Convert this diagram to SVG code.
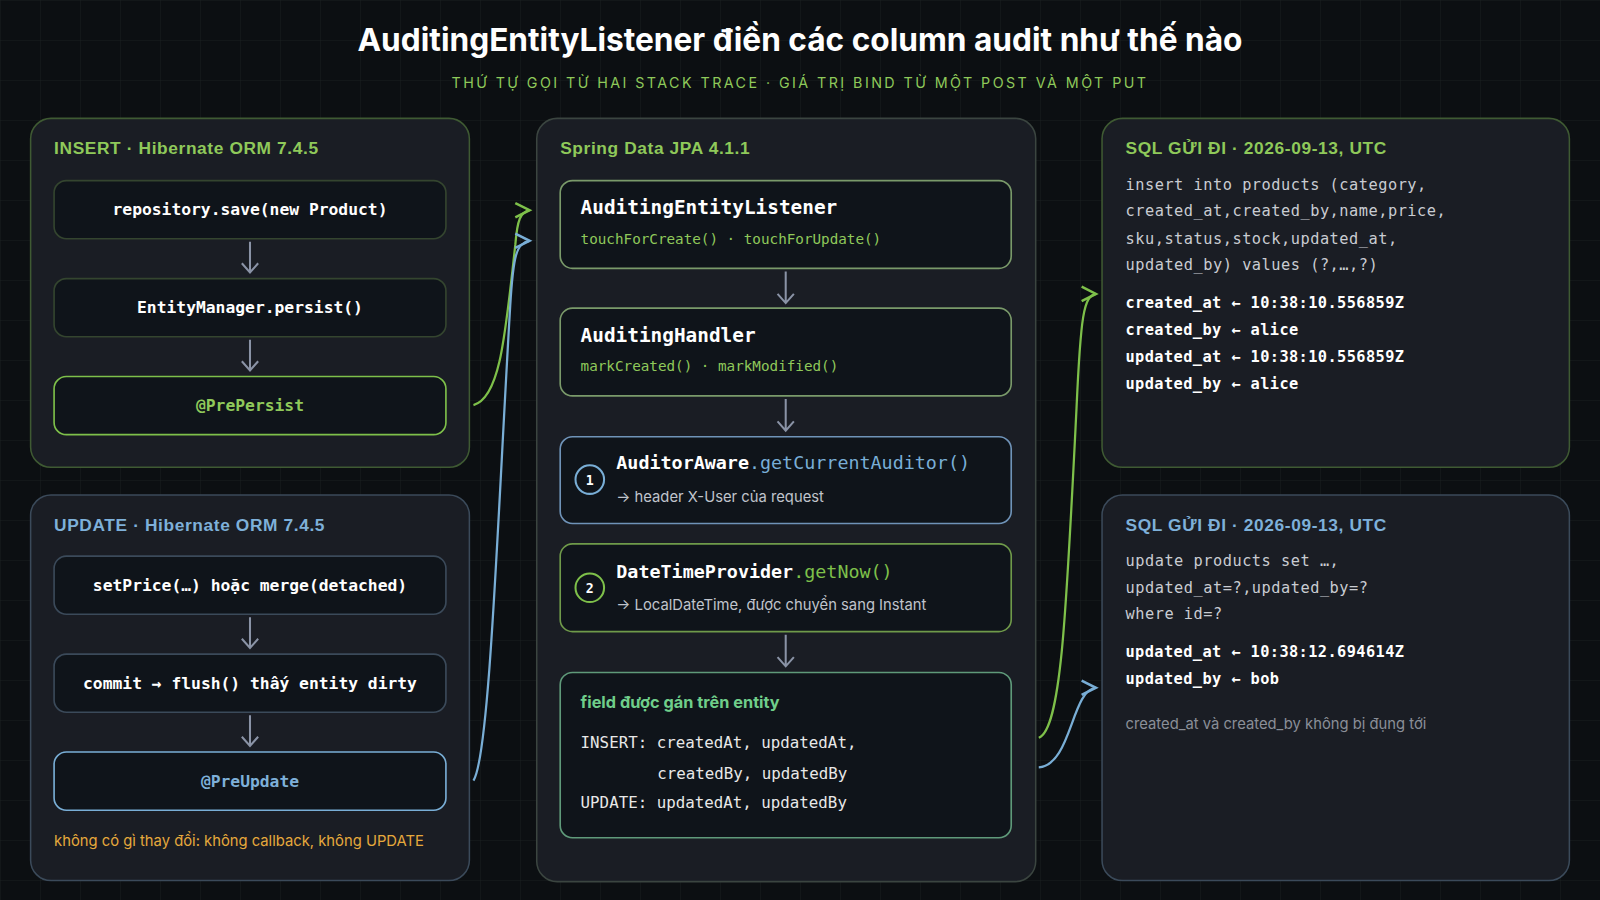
<svg xmlns="http://www.w3.org/2000/svg" width="1600" height="900" viewBox="0 0 1600 900">
<defs>
<style>
.sans{font-family:Inter,"Liberation Sans","Noto Sans",sans-serif}
.hdr{font-family:"Liberation Sans",Inter,sans-serif;font-size:17px;font-weight:bold;letter-spacing:0.6px}
.mono{font-family:"DejaVu Sans Mono","Liberation Mono",monospace}
.panel{fill:#1a1d24}
.box{fill:#0f141a;stroke-width:1.6}
.arr{stroke:#8a93a6;stroke-width:2;fill:none}
.g{fill:#8fc95a}.b{fill:#7eb0d9}
.code{fill:#ffffff;font-weight:bold;font-size:16px}
.big{font-size:19px}
.sql{fill:#c9ccd2;font-size:15px;letter-spacing:0.5px}
.bind{fill:#ffffff;font-weight:bold;font-size:15px;letter-spacing:0.4px}
</style>
<marker id="mg" viewBox="0 0 20 20" refX="16" refY="10" markerWidth="20" markerHeight="20" markerUnits="userSpaceOnUse" orient="0"><path d="M2,3 L16,10 L2,17" fill="none" stroke="#7ec04a" stroke-width="2.5"/></marker>
<marker id="mb" viewBox="0 0 20 20" refX="16" refY="10" markerWidth="20" markerHeight="20" markerUnits="userSpaceOnUse" orient="0"><path d="M2,3 L16,10 L2,17" fill="none" stroke="#79aed6" stroke-width="2.5"/></marker>
<pattern id="grid" width="40" height="40" patternUnits="userSpaceOnUse"><path d="M40,0 L0,0 0,40" fill="none" stroke="#1a2020" stroke-width="1"/></pattern>
</defs>
<rect width="1600" height="900" fill="#0c0f12"/>
<rect width="1600" height="900" fill="url(#grid)"/>
<g transform="scale(1.0204)">
<text x="784" y="50" text-anchor="middle" class="sans" font-size="31" font-weight="bold" fill="#ffffff">AuditingEntityListener điền các column audit như thế nào</text>
<text x="784" y="86" text-anchor="middle" class="sans" font-size="14" fill="#8fc95a" letter-spacing="2.4">THỨ TỰ GỌI TỪ HAI STACK TRACE · GIÁ TRỊ BIND TỪ MỘT POST VÀ MỘT PUT</text>

<g id="insert-panel">
<rect x="30" y="116" width="430" height="342" rx="20" class="panel" stroke="#3f5a33" stroke-width="1.5"/>
<text x="53" y="151" class="hdr g">INSERT · Hibernate ORM 7.4.5</text>
</g>
<g id="n-save"><rect x="53" y="177" width="384" height="57" rx="12" class="box" stroke="#34452f"/><text x="245" y="211" text-anchor="middle" class="mono code">repository.save(new Product)</text></g>
<g id="n-persist"><rect x="53" y="273" width="384" height="57" rx="12" class="box" stroke="#34452f"/><text x="245" y="307" text-anchor="middle" class="mono code">EntityManager.persist()</text></g>
<g id="n-prepersist"><rect x="53" y="369" width="384" height="57" rx="12" class="box" stroke="#7ec04a" stroke-width="2.5"/><text x="245" y="403" text-anchor="middle" class="mono g" font-size="16" font-weight="bold">@PrePersist</text></g>

<g id="update-panel">
<rect x="30" y="485" width="430" height="378" rx="20" class="panel" stroke="#3b4a5a" stroke-width="1.5"/>
<text x="53" y="520" class="hdr b">UPDATE · Hibernate ORM 7.4.5</text>
<text x="53" y="829" class="sans" font-size="14.5" fill="#e6a93c">không có gì thay đổi: không callback, không UPDATE</text>
</g>
<g id="n-setprice"><rect x="53" y="545" width="384" height="57" rx="12" class="box" stroke="#3b4a5a"/><text x="245" y="579" text-anchor="middle" class="mono code">setPrice(…) hoặc merge(detached)</text></g>
<g id="n-commit"><rect x="53" y="641" width="384" height="57" rx="12" class="box" stroke="#3b4a5a"/><text x="245" y="675" text-anchor="middle" class="mono code">commit → flush() thấy entity dirty</text></g>
<g id="n-preupdate"><rect x="53" y="737" width="384" height="57" rx="12" class="box" stroke="#79aed6" stroke-width="2.5"/><text x="245" y="771" text-anchor="middle" class="mono b" font-size="16" font-weight="bold">@PreUpdate</text></g>

<g id="spring-panel">
<rect x="526" y="116" width="489" height="748" rx="20" class="panel" stroke="#3b4540" stroke-width="1.5"/>
<text x="549" y="151" class="hdr g">Spring Data JPA 4.1.1</text>
</g>
<g id="n-ael"><rect x="549" y="177" width="442" height="86" rx="12" class="box" stroke="#7a9a6a" stroke-width="2"/>
<text x="569" y="210" class="mono code big">AuditingEntityListener</text>
<text x="569" y="239" class="mono g" font-size="14">touchForCreate() · touchForUpdate()</text></g>
<g id="n-handler"><rect x="549" y="302" width="442" height="86" rx="12" class="box" stroke="#7a9a6a" stroke-width="2"/>
<text x="569" y="335" class="mono code big">AuditingHandler</text>
<text x="569" y="364" class="mono g" font-size="14">markCreated() · markModified()</text></g>
<g id="n-auditor"><rect x="549" y="428" width="442" height="85" rx="12" class="box" stroke="#6f93b8" stroke-width="2"/>
<circle cx="578" cy="470" r="14" fill="none" stroke="#79aed6" stroke-width="2"/><text x="578" y="475" text-anchor="middle" class="mono" font-size="13" font-weight="bold" fill="#fff">1</text>
<text x="604" y="460" class="mono" font-size="18"><tspan fill="#fff" font-weight="bold">AuditorAware</tspan><tspan fill="#79aed6">.getCurrentAuditor()</tspan></text>
<text x="604" y="492" class="sans" font-size="14.5" fill="#c0c4cc">→ header X-User của request</text></g>
<g id="n-datetime"><rect x="549" y="533" width="442" height="86" rx="12" class="box" stroke="#6f9a4a" stroke-width="2"/>
<circle cx="578" cy="576" r="14" fill="none" stroke="#7ec04a" stroke-width="2"/><text x="578" y="581" text-anchor="middle" class="mono" font-size="13" font-weight="bold" fill="#fff">2</text>
<text x="604" y="566" class="mono" font-size="18"><tspan fill="#fff" font-weight="bold">DateTimeProvider</tspan><tspan fill="#7ec04a">.getNow()</tspan></text>
<text x="604" y="598" class="sans" font-size="14.5" fill="#c0c4cc">→ LocalDateTime, được chuyển sang Instant</text></g>
<g id="n-fields"><rect x="549" y="659" width="442" height="162" rx="12" class="box" stroke="#5f9a7a" stroke-width="2"/>
<text x="569" y="694" class="sans" font-size="16" font-weight="bold" fill="#6fce8a">field được gán trên entity</text>
<text class="mono" font-size="15.5" fill="#e8e8e8"><tspan x="569" y="733">INSERT: createdAt, updatedAt,</tspan><tspan x="644" y="763">createdBy, updatedBy</tspan><tspan x="569" y="792">UPDATE: updatedAt, updatedBy</tspan></text></g>

<g id="sql-insert">
<rect x="1080" y="116" width="458" height="342" rx="20" class="panel" stroke="#3f5a33" stroke-width="1.5"/>
<text x="1103" y="151" class="hdr g">SQL GỬI ĐI · 2026-09-13, UTC</text>
<text class="mono sql"><tspan x="1103" y="186">insert into products (category,</tspan><tspan x="1103" y="212">created_at,created_by,name,price,</tspan><tspan x="1103" y="239">sku,status,stock,updated_at,</tspan><tspan x="1103" y="265">updated_by) values (?,…,?)</tspan></text>
<text class="mono bind"><tspan x="1103" y="302">created_at ← 10:38:10.556859Z</tspan><tspan x="1103" y="328">created_by ← alice</tspan><tspan x="1103" y="355">updated_at ← 10:38:10.556859Z</tspan><tspan x="1103" y="381">updated_by ← alice</tspan></text>
</g>
<g id="sql-update">
<rect x="1080" y="485" width="458" height="378" rx="20" class="panel" stroke="#3b4a5a" stroke-width="1.5"/>
<text x="1103" y="520" class="hdr b">SQL GỬI ĐI · 2026-09-13, UTC</text>
<text class="mono sql"><tspan x="1103" y="555">update products set …,</tspan><tspan x="1103" y="581">updated_at=?,updated_by=?</tspan><tspan x="1103" y="607">where id=?</tspan></text>
<text class="mono bind"><tspan x="1103" y="644">updated_at ← 10:38:12.694614Z</tspan><tspan x="1103" y="670">updated_by ← bob</tspan></text>
<text x="1103" y="714" class="sans" font-size="14.5" fill="#8a8f98">created_at và created_by không bị đụng tới</text>
</g>

<g id="connectors">
<path class="arr" d="M245,237 V267 M237,258 L245,267 253,258"/>
<path class="arr" d="M245,333 V363 M237,354 L245,363 253,354"/>
<path class="arr" d="M245,605 V635 M237,626 L245,635 253,626"/>
<path class="arr" d="M245,701 V731 M237,722 L245,731 253,722"/>
<path class="arr" d="M770,266 V297 M762,288 L770,297 778,288"/>
<path class="arr" d="M770,391 V422 M762,413 L770,422 778,413"/>
<path class="arr" d="M770,622 V653 M762,644 L770,653 778,644"/>
<path d="M464,397 C490,390 495,330 505,240 C507,215 510,208 519,206" fill="none" stroke="#7ec04a" stroke-width="2.2" marker-end="url(#mg)"/>
<path d="M464,765 C480,740 488,500 500,300 C503,250 506,238 519,236" fill="none" stroke="#79aed6" stroke-width="2.2" marker-end="url(#mb)"/>
<path d="M1018,723 C1040,715 1045,600 1055,400 C1059,310 1062,290 1074,288" fill="none" stroke="#7ec04a" stroke-width="2.2" marker-end="url(#mg)"/>
<path d="M1018,752 C1050,750 1050,676 1074,674" fill="none" stroke="#79aed6" stroke-width="2.2" marker-end="url(#mb)"/>
</g>
</g>
</svg>
